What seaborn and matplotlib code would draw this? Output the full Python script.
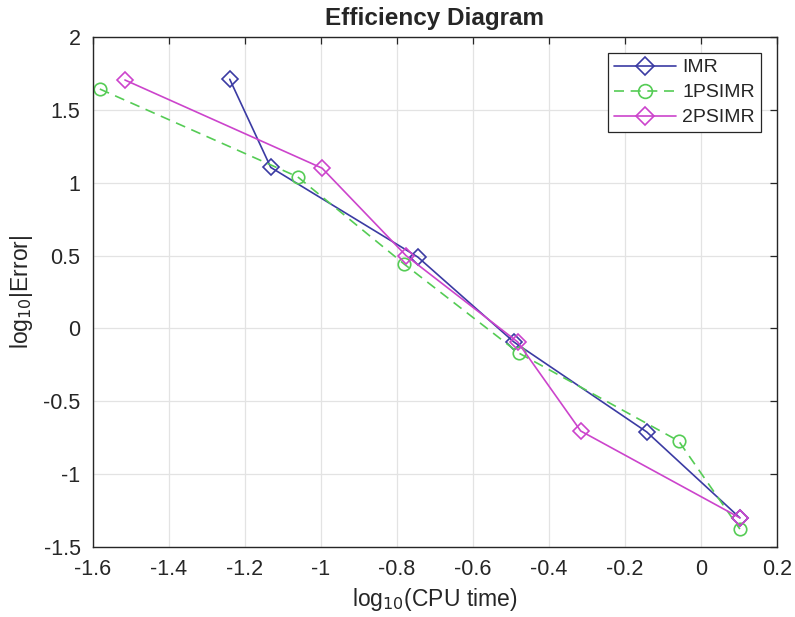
import numpy as np
import pandas as pd
import seaborn as sns
from matplotlib import pyplot as plt

# values (log10 of CPU time / |error|)
imr_x = [-1.24, -1.132, -0.745, -0.492, -0.142, 0.103]
imr_y = [1.71, 1.105, 0.49, -0.093, -0.711, -1.30]

ps1_x = [-1.582, -1.061, -0.780, -0.479, -0.058, 0.103]
ps1_y = [1.643, 1.04, 0.44, -0.169, -0.773, -1.377]

ps2_x = [-1.516, -0.997, -0.776, -0.482, -0.316, 0.103]
ps2_y = [1.705, 1.10, 0.50, -0.093, -0.704, -1.30]

series_names = ['IMR', '1PSIMR', '2PSIMR']

sns.set_theme(style='whitegrid')
plt.rcParams['font.family'] = ['Liberation Sans', 'DejaVu Sans']

fig = plt.figure(figsize=(7.95, 6.17), dpi=100)
ax = fig.add_axes([0.117, 0.1135, 0.860, 0.8265])

# one frame per series, drawn with seaborn
df_imr = pd.DataFrame({'x': imr_x, 'y': imr_y})
df_ps1 = pd.DataFrame({'x': ps1_x, 'y': ps1_y})
df_ps2 = pd.DataFrame({'x': ps2_x, 'y': ps2_y})

sns.lineplot(data=df_imr, x='x', y='y', ax=ax, sort=False, estimator=None,
             color='#3b3ba3', lw=1.2, marker='D', markersize=8,
             markerfacecolor='none', markeredgecolor='#3b3ba3', markeredgewidth=1.2,
             label=series_names[0])
sns.lineplot(data=df_ps1, x='x', y='y', ax=ax, sort=False, estimator=None,
             color='#55cc55', lw=1.2, linestyle=(0, (6, 4)), marker='o', markersize=9,
             markerfacecolor='none', markeredgecolor='#55cc55', markeredgewidth=1.2,
             label=series_names[1])
sns.lineplot(data=df_ps2, x='x', y='y', ax=ax, sort=False, estimator=None,
             color='#cc44cc', lw=1.2, marker='D', markersize=8,
             markerfacecolor='none', markeredgecolor='#cc44cc', markeredgewidth=1.2,
             label=series_names[2])

ax.set_xlim(-1.6, 0.2)
ax.set_ylim(-1.5, 2)
ax.set_xticks(np.arange(-1.6, 0.21, 0.2))
ax.set_xticklabels(['-1.6', '-1.4', '-1.2', '-1', '-0.8', '-0.6', '-0.4', '-0.2', '0', '0.2'])
ax.set_yticks(np.arange(-1.5, 2.01, 0.5))
ax.set_yticklabels(['-1.5', '-1', '-0.5', '0', '0.5', '1', '1.5', '2'])

ax.grid(True, color='#e3e3e3', lw=0.9)
for s in ax.spines.values():
    s.set_color('#262626')
    s.set_linewidth(1.0)
ax.tick_params(direction='in', length=5, width=0.9, color='#262626',
               top=True, right=True, labelsize=15.5, labelcolor='#262626')
ax.tick_params(axis='x', pad=9)
ax.tick_params(axis='y', pad=9)

ax.set_title('Efficiency Diagram', fontsize=17.5, fontweight='bold', pad=9)
ax.set_xlabel('log$_{10}$(CPU time)', fontsize=16.5, color='#262626', labelpad=4)
ax.set_ylabel('log$_{10}$|Error|', fontsize=16.5, color='#262626', labelpad=6)

leg = ax.legend(loc='upper right', fontsize=14, fancybox=False, framealpha=1,
                edgecolor='#262626', borderaxespad=0.82, handlelength=3.2,
                labelspacing=0.38, handletextpad=0.3, borderpad=0.3,
                markerscale=1.1)
leg.get_frame().set_linewidth(0.9)

fig.savefig('out.png', dpi=100)
